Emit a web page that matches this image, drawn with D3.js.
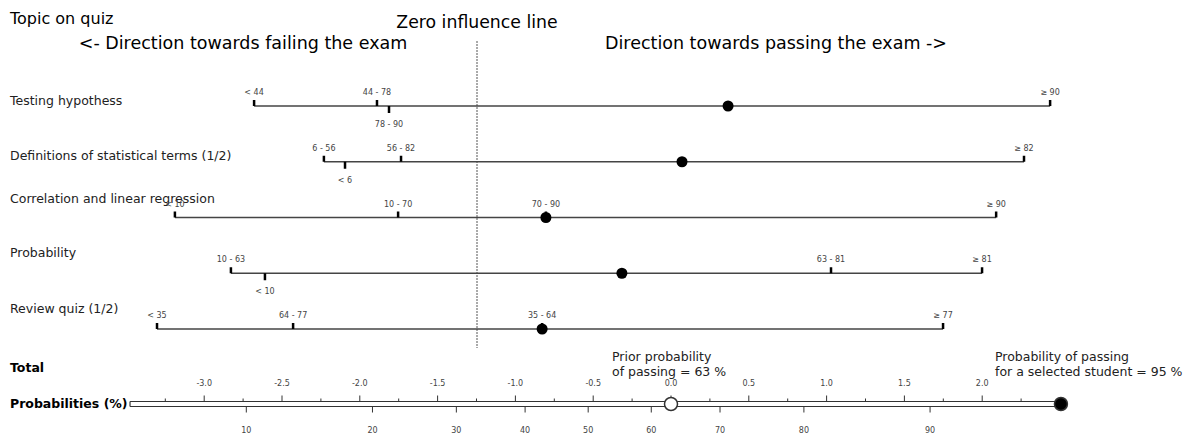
<!DOCTYPE html>
<html>
<head>
<meta charset="utf-8">
<script src="https://cdn.jsdelivr.net/npm/d3@7/dist/d3.min.js"></script>
<style>
  body { margin: 0; background: #fff; }
  svg { display: block; font-family: "DejaVu Sans", Verdana, sans-serif; }
</style>
</head>
<body>
<svg id="chart" width="1191" height="438"></svg>
<script>
// ---------- data ----------
const topics = [
  "Testing hypothess",
  "Definitions of statistical terms (1/2)",
  "Correlation and linear regression",
  "Probability",
  "Review quiz (1/2)"
];
// category labels per topic
const categoryLabels = [
  ["< 44", "44 - 78", "78 - 90", "≥ 90"],
  ["6 - 56", "< 6", "56 - 82", "≥ 82"],
  ["< 10", "10 - 70", "70 - 90", "≥ 90"],
  ["10 - 63", "< 10", "63 - 81", "≥ 81"],
  ["< 35", "64 - 77", "35 - 64", "≥ 77"]
];
// log odds ratio contribution of each category
const categoryValues = [
  [-0.760, -0.341, -0.300, 1.954],
  [-0.522, -0.450, -0.259, 1.865],
  [-1.030, -0.269, 0.235, 1.770],
  [-0.839, -0.723, 1.207, 1.722],
  [-1.091, -0.627, 0.222, 1.589]
];
// contribution of the selected student for each topic
const selectedValues = [0.856, 0.699, 0.235, 0.494, 0.222];
const priorProbability = 63;          // %
const totalTicks = [-3.0, -2.5, -2.0, -1.5, -1.0, -0.5, 0.0, 0.5, 1.0, 1.5, 2.0];
const totalMinorTicks = [-3.25, -2.75, -2.25, -1.75, -1.25, -0.75, -0.25, 0.25, 0.75, 1.25, 1.75, 2.25];
const probabilityTicks = [10, 20, 30, 40, 50, 60, 70, 80, 90];
const probabilityRange = [5, 95];     // % shown on the axis

// ---------- layout ----------
const svg = d3.select("#chart");
const xPts = d3.scaleLinear().domain([0, 1]).range([477, 770.3]);
const xTot = d3.scaleLinear().domain([0, 1]).range([671, 826.6]);
const rowY = d3.scalePoint().domain(d3.range(topics.length)).range([106, 329]);
const labelDy = [-5, -6, -19, -20, -20];
const logit = p => Math.log(p / (1 - p));
const priorLogit = logit(priorProbability / 100);
const totalSum = d3.sum(selectedValues);
const selectedProb = 100 / (1 + Math.exp(-(priorLogit + totalSum)));

// header texts
svg.append("text").attr("x", 10).attr("y", 24).attr("font-size", 16).attr("fill", "#000").text("Topic on quiz");
svg.append("text").attr("x", xPts(0)).attr("y", 28).attr("text-anchor", "middle").attr("font-size", 17.3).text("Zero influence line");
svg.append("text").attr("x", 243).attr("y", 49).attr("text-anchor", "middle").attr("font-size", 17.5).text("<- Direction towards failing the exam");
svg.append("text").attr("x", 776).attr("y", 49).attr("text-anchor", "middle").attr("font-size", 17.5).text("Direction towards passing the exam ->");

// zero influence line
svg.append("line").attr("x1", xPts(0)).attr("x2", xPts(0)).attr("y1", 41).attr("y2", 348)
  .attr("stroke", "#555").attr("stroke-width", 1).attr("stroke-dasharray", "2,1");

// rows
topics.forEach((t, i) => {
  const y = rowY(i);
  const g = svg.append("g");
  g.append("text").attr("x", 10).attr("y", y + labelDy[i] + 4).attr("font-size", 12.5).attr("fill", "#222").text(t);
  const vals = categoryValues[i];
  const ext = d3.extent(vals);
  g.append("line").attr("x1", xPts(ext[0])).attr("x2", xPts(ext[1])).attr("y1", y).attr("y2", y)
    .attr("stroke", "#444").attr("stroke-width", 1.6);
  // decide above / below
  const order = d3.range(vals.length).sort((a, b) => vals[a] - vals[b]);
  let lastAbove = -Infinity;
  const side = [];
  order.forEach(k => {
    const px = xPts(vals[k]);
    if (px - lastAbove < 40) side[k] = 1; else { side[k] = -1; lastAbove = px; }
  });
  vals.forEach((v, k) => {
    const px = xPts(v);
    if (side[k] < 0) {
      g.append("line").attr("x1", px).attr("x2", px).attr("y1", y - 6).attr("y2", y).attr("stroke", "#000").attr("stroke-width", 2.5);
      g.append("text").attr("x", px).attr("y", y - 11).attr("text-anchor", "middle").attr("font-size", 8).attr("fill", "#444").text(categoryLabels[i][k]);
    } else {
      g.append("line").attr("x1", px).attr("x2", px).attr("y1", y).attr("y2", y + 7).attr("stroke", "#000").attr("stroke-width", 2.5);
      g.append("text").attr("x", px).attr("y", y + 21).attr("text-anchor", "middle").attr("font-size", 8).attr("fill", "#444").text(categoryLabels[i][k]);
    }
  });
  g.append("circle").attr("cx", xPts(selectedValues[i])).attr("cy", y).attr("r", 5.5).attr("fill", "#000");
});

// bottom total / probability axis
const axY1 = 401.5, axY2 = 406.5;
svg.append("text").attr("x", 10).attr("y", 372).attr("font-size", 12.5).attr("font-weight", "bold").text("Total");
svg.append("text").attr("x", 10).attr("y", 408).attr("font-size", 12.5).attr("font-weight", "bold").text("Probabilities (%)");

const tStart = logit(probabilityRange[0] / 100) - priorLogit;
const tEnd = Math.max(logit(probabilityRange[1] / 100) - priorLogit, totalSum);
[axY1, axY2].forEach(yy => {
  svg.append("line").attr("x1", xTot(tStart)).attr("x2", xTot(tEnd)).attr("y1", yy).attr("y2", yy)
    .attr("stroke", "#333").attr("stroke-width", 1.2);
});
svg.append("line").attr("x1", xTot(tStart)).attr("x2", xTot(tStart)).attr("y1", axY1).attr("y2", axY2).attr("stroke", "#333").attr("stroke-width", 1.2);

const fmt = t => d3.format(".1f")(t).replace("−", "-");
totalTicks.forEach(t => {
  svg.append("line").attr("x1", xTot(t)).attr("x2", xTot(t)).attr("y1", axY1 - 6).attr("y2", axY1).attr("stroke", "#333").attr("stroke-width", 1);
  svg.append("text").attr("x", xTot(t)).attr("y", 386).attr("text-anchor", "middle").attr("font-size", 8).attr("fill", "#444").text(fmt(t));
});
totalMinorTicks.forEach(t => {
  svg.append("line").attr("x1", xTot(t)).attr("x2", xTot(t)).attr("y1", axY1 - 3).attr("y2", axY1).attr("stroke", "#333").attr("stroke-width", 1);
});
probabilityTicks.forEach(p => {
  const px = xTot(logit(p / 100) - priorLogit);
  svg.append("line").attr("x1", px).attr("x2", px).attr("y1", axY2).attr("y2", axY2 + 6).attr("stroke", "#333").attr("stroke-width", 1);
  svg.append("text").attr("x", px).attr("y", 433).attr("text-anchor", "middle").attr("font-size", 8).attr("fill", "#444").text(p);
});

// prior marker
svg.append("circle").attr("cx", xTot(0)).attr("cy", (axY1 + axY2) / 2).attr("r", 6.5)
  .attr("fill", "#fff").attr("stroke", "#333").attr("stroke-width", 1.5);
svg.append("text").attr("x", 612).attr("y", 361).attr("font-size", 12.5).attr("fill", "#222").text("Prior probability");
svg.append("text").attr("x", 612).attr("y", 376).attr("font-size", 12.5).attr("fill", "#222").text("of passing = " + priorProbability + " %");

// selected marker
svg.append("circle").attr("cx", xTot(totalSum)).attr("cy", (axY1 + axY2) / 2).attr("r", 6.5)
  .attr("fill", "#000").attr("stroke", "#333").attr("stroke-width", 1.5);
svg.append("text").attr("x", 995).attr("y", 361).attr("font-size", 12.5).attr("fill", "#222").text("Probability of passing");
svg.append("text").attr("x", 995).attr("y", 376).attr("font-size", 12.5).attr("fill", "#222").text("for a selected student = " + Math.round(selectedProb) + " %");
</script>
</body>
</html>
